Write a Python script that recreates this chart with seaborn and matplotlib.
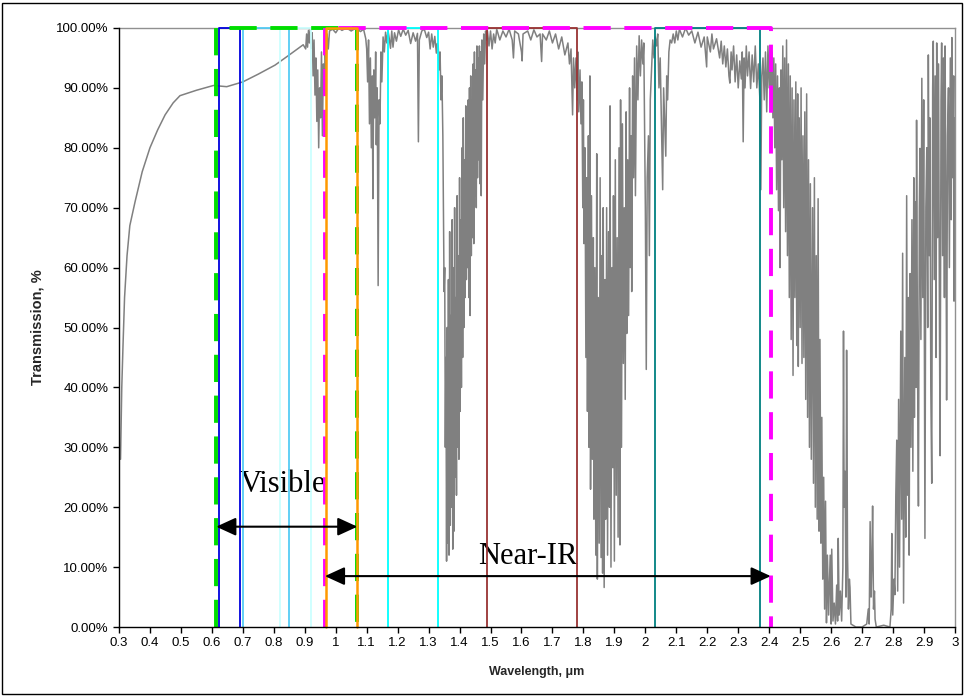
import matplotlib
matplotlib.use("Agg")
import numpy as np
import pandas as pd
import matplotlib.pyplot as plt
from matplotlib.patches import Rectangle
from matplotlib.ticker import FuncFormatter, MultipleLocator
import seaborn as sns

# Atmospheric transmission: (wavelength um, transmission %)
seg_uv_vis = [(0.305, 28), (0.309, 40), (0.313, 47), (0.318, 55), (0.326, 62), (0.335, 67), (0.352, 71),
              (0.375, 76), (0.400, 80), (0.425, 83), (0.449, 85.5), (0.475, 87.5), (0.497, 88.7),
              (0.550, 89.6), (0.605, 90.4), (0.648, 90.2), (0.700, 91.0), (0.750, 92.3),
              (0.804, 93.8), (0.850, 95.5), (0.895, 97.2), (0.903, 96.5)]

seg_nir1 = [(0.906, 99.0), (0.909, 96.8), (0.912, 99.6), (0.915, 97.5), (0.918, 99.8), (0.921, 96.6),
            (0.924, 99.2), (0.927, 92), (0.930, 98), (0.933, 88.8), (0.936, 95), (0.939, 84.4),
            (0.942, 93), (0.945, 80), (0.948, 90), (0.951, 85), (0.954, 96), (0.957, 82),
            (0.960, 94), (0.963, 89), (0.966, 97), (0.969, 93), (0.972, 99), (0.976, 96.5),
            (0.980, 99.5), (0.990, 99.8), (1.000, 99.2), (1.010, 100), (1.020, 99.6), (1.035, 100),
            (1.050, 99.5), (1.065, 100), (1.080, 99.4), (1.090, 99.8), (1.097, 98.2)]

seg_band_1130 = [(1.100, 96.5), (1.103, 91), (1.106, 98), (1.109, 84), (1.112, 95), (1.115, 80),
                 (1.118, 92), (1.120, 71.5), (1.123, 93), (1.126, 85), (1.129, 96), (1.131, 80.5),
                 (1.134, 90), (1.137, 57), (1.140, 88), (1.143, 84), (1.146, 96), (1.149, 91),
                 (1.153, 98.5), (1.157, 96), (1.161, 99.3), (1.165, 97.5), (1.169, 99.5)]

seg_nir2 = [(1.173, 98.2), (1.177, 96.6), (1.181, 99.5), (1.185, 96.8), (1.190, 99.2), (1.196, 97.8),
            (1.203, 99.7), (1.210, 98.6), (1.218, 99.8), (1.226, 98.8), (1.234, 99.6), (1.242, 97.4),
            (1.250, 99.2), (1.258, 97.8), (1.264, 99.1), (1.267, 81), (1.270, 98), (1.278, 99.5),
            (1.286, 99.8), (1.294, 98.4), (1.300, 99.3), (1.305, 96.5), (1.310, 99), (1.315, 96.8),
            (1.320, 98.6), (1.325, 95.8), (1.328, 97.4)]

seg_band_1400 = [(1.331, 97), (1.334, 93), (1.337, 96), (1.340, 88), (1.343, 92), (1.346, 82),
                 (1.348, 70), (1.350, 56), (1.352, 60), (1.354, 30), (1.356, 45), (1.358, 11),
                 (1.360, 50), (1.362, 14), (1.364, 58), (1.366, 12), (1.368, 66), (1.370, 17),
                 (1.372, 52), (1.374, 20), (1.376, 68), (1.378, 13), (1.380, 60), (1.382, 16),
                 (1.384, 70), (1.386, 25), (1.388, 55), (1.390, 22), (1.392, 72), (1.394, 30),
                 (1.396, 62), (1.398, 28), (1.400, 75), (1.402, 36), (1.404, 68), (1.406, 40),
                 (1.408, 80), (1.410, 45), (1.412, 85), (1.414, 50), (1.416, 78), (1.418, 55),
                 (1.420, 87), (1.422, 58), (1.424, 82), (1.426, 60), (1.428, 88), (1.430, 55),
                 (1.432, 90), (1.434, 52), (1.436, 92), (1.438, 62), (1.440, 88), (1.442, 65),
                 (1.444, 94), (1.446, 64), (1.448, 96), (1.450, 72), (1.452, 93), (1.454, 70),
                 (1.456, 97), (1.458, 75), (1.460, 95), (1.462, 78), (1.464, 97), (1.466, 74),
                 (1.468, 96), (1.470, 72), (1.472, 98), (1.475, 88), (1.478, 99), (1.481, 94),
                 (1.484, 99.5), (1.487, 98), (1.490, 99.5)]

seg_h_band = [(1.495, 97), (1.500, 99.5), (1.505, 96.5), (1.510, 99), (1.515, 97.5), (1.520, 99.8),
              (1.530, 98), (1.540, 99.5), (1.550, 98.5), (1.560, 99.8), (1.570, 98), (1.574, 95),
              (1.578, 99.5), (1.590, 99), (1.600, 96), (1.602, 94.5), (1.605, 99), (1.620, 99.5),
              (1.630, 98), (1.640, 99.7), (1.650, 98.5), (1.660, 99), (1.665, 94.4), (1.668, 99),
              (1.680, 98), (1.690, 99.5), (1.700, 97.5), (1.710, 99), (1.720, 96.5), (1.730, 98.5),
              (1.740, 95.5), (1.750, 97.5), (1.755, 94), (1.760, 96.5), (1.765, 85.5), (1.768, 95),
              (1.772, 90), (1.776, 95), (1.780, 88)]

seg_band_1900 = [(1.782, 96), (1.785, 86), (1.789, 93), (1.792, 84), (1.795, 91), (1.798, 70),
                 (1.800, 88), (1.802, 64), (1.805, 80), (1.808, 45), (1.811, 75), (1.813, 36),
                 (1.816, 82), (1.818, 30), (1.821, 92), (1.823, 23), (1.826, 72), (1.829, 28),
                 (1.832, 65), (1.834, 18), (1.837, 60), (1.840, 12), (1.843, 79), (1.845, 8),
                 (1.848, 55), (1.851, 14), (1.854, 75), (1.857, 11.6), (1.860, 62), (1.862, 9),
                 (1.864, 70), (1.867, 6.6), (1.870, 58), (1.872, 18), (1.875, 70), (1.878, 12),
                 (1.881, 66), (1.884, 20), (1.886, 87), (1.889, 10), (1.892, 60), (1.895, 26.6),
                 (1.897, 72), (1.900, 11), (1.903, 78), (1.906, 22), (1.909, 65), (1.912, 15),
                 (1.915, 80), (1.918, 13.7), (1.920, 88), (1.923, 30), (1.926, 84), (1.929, 44),
                 (1.932, 70), (1.935, 38), (1.938, 86), (1.940, 49), (1.943, 78), (1.946, 52),
                 (1.949, 90), (1.951, 60), (1.954, 82), (1.956, 56), (1.959, 92), (1.962, 75),
                 (1.965, 95), (1.968, 72), (1.972, 97), (1.976, 88), (1.980, 98.7), (1.984, 92),
                 (1.988, 98), (1.992, 94), (1.995, 97.5), (1.998, 80), (2.000, 70), (2.003, 43),
                 (2.006, 75), (2.010, 82), (2.013, 62), (2.016, 88), (2.020, 93), (2.024, 98),
                 (2.028, 95), (2.032, 98.5), (2.036, 97), (2.040, 99), (2.044, 90), (2.048, 95),
                 (2.052, 84), (2.056, 73), (2.059, 90), (2.062, 85), (2.066, 78.6), (2.069, 92),
                 (2.072, 88), (2.076, 96), (2.080, 98), (2.085, 97.5), (2.090, 99)]

seg_k_band = [(2.095, 97.5), (2.100, 99.5), (2.105, 98), (2.110, 99.8), (2.120, 98.5), (2.130, 100),
              (2.140, 98.8), (2.150, 99.5), (2.160, 97.5), (2.170, 99.3), (2.180, 96.8), (2.190, 98.5),
              (2.195, 95.5), (2.198, 93.5), (2.200, 98.5), (2.210, 96), (2.215, 99), (2.220, 96.5),
              (2.230, 98.2), (2.240, 95), (2.245, 97.8), (2.250, 94), (2.255, 97), (2.260, 93.5),
              (2.265, 96.5), (2.270, 92), (2.273, 90.8), (2.277, 96), (2.280, 93), (2.285, 97),
              (2.290, 91), (2.295, 95.5), (2.300, 90), (2.305, 94.5), (2.310, 91.5), (2.313, 96),
              (2.316, 81), (2.319, 95), (2.322, 90), (2.326, 97), (2.330, 92), (2.335, 96),
              (2.340, 89.9), (2.345, 95.5), (2.350, 91), (2.355, 97), (2.360, 90), (2.365, 94),
              (2.370, 88), (2.373, 73), (2.376, 92), (2.380, 95), (2.384, 88), (2.388, 96),
              (2.392, 86), (2.396, 97), (2.400, 90)]

seg_band_2700 = [(2.403, 97), (2.406, 88), (2.409, 96), (2.412, 85), (2.415, 95), (2.418, 80),
                 (2.421, 94), (2.424, 73), (2.427, 92), (2.430, 69.5), (2.433, 90), (2.435, 60),
                 (2.438, 93), (2.441, 78), (2.444, 97), (2.447, 70), (2.450, 95), (2.453, 66),
                 (2.456, 98), (2.459, 62), (2.462, 94), (2.465, 55), (2.468, 92), (2.471, 48),
                 (2.474, 90), (2.477, 42), (2.480, 88), (2.483, 55), (2.486, 91), (2.489, 47),
                 (2.492, 89), (2.494, 43.5), (2.497, 85), (2.500, 50), (2.503, 90), (2.506, 44),
                 (2.509, 82), (2.512, 45), (2.515, 86), (2.518, 38), (2.521, 89), (2.524, 35),
                 (2.527, 78), (2.530, 30), (2.533, 74), (2.536, 28), (2.540, 70), (2.543, 24),
                 (2.546, 75), (2.549, 20), (2.552, 62), (2.555, 18), (2.558, 71.5), (2.561, 16),
                 (2.564, 48), (2.567, 14), (2.570, 35), (2.573, 8), (2.576, 25), (2.579, 3),
                 (2.582, 21), (2.585, 0.7), (2.588, 12), (2.592, 2), (2.597, 12), (2.600, 0.5),
                 (2.602, 13), (2.606, 1), (2.610, 4), (2.614, 0.5), (2.618, 7), (2.621, 1),
                 (2.623, 14.8), (2.626, 2), (2.630, 6), (2.634, 1), (2.638, 10), (2.640, 49.4),
                 (2.642, 20), (2.645, 26), (2.648, 5), (2.650, 46.2), (2.653, 12), (2.656, 3),
                 (2.659, 8), (2.661, 6.6), (2.664, 0.5), (2.680, 0), (2.700, 0), (2.715, 0.5),
                 (2.720, 3), (2.723, 0.5), (2.726, 17.6), (2.729, 5), (2.732, 12), (2.734, 20.2),
                 (2.737, 3), (2.740, 6), (2.742, 1.3), (2.746, 0), (2.770, 0.3), (2.790, 0)]

seg_mir = [(2.794, 3), (2.796, 15.6), (2.799, 2), (2.803, 8), (2.806, 5.4), (2.809, 22),
           (2.812, 31.2), (2.815, 6), (2.818, 38), (2.821, 10), (2.825, 49.4), (2.828, 18),
           (2.831, 62.4), (2.834, 4), (2.838, 45), (2.841, 15), (2.844, 72), (2.847, 22),
           (2.850, 55), (2.852, 12), (2.855, 59), (2.858, 30), (2.861, 68), (2.864, 26),
           (2.867, 75), (2.869, 35), (2.871, 71), (2.874, 40), (2.876, 84.6), (2.879, 45),
           (2.882, 20.2), (2.885, 70), (2.887, 79.9), (2.890, 48), (2.893, 91.6), (2.896, 55),
           (2.899, 88), (2.903, 14.8), (2.906, 70), (2.909, 80), (2.912, 50), (2.914, 95.5),
           (2.917, 62), (2.919, 85), (2.922, 40), (2.925, 24), (2.928, 90), (2.930, 97.8),
           (2.933, 58), (2.936, 92), (2.939, 45), (2.941, 97.5), (2.944, 65), (2.947, 94),
           (2.950, 50), (2.952, 28.6), (2.955, 88), (2.957, 97.5), (2.960, 62), (2.963, 95),
           (2.966, 55), (2.968, 97), (2.971, 70), (2.973, 37.9), (2.976, 82), (2.979, 90),
           (2.982, 60), (2.985, 95), (2.988, 68), (2.990, 98.4), (2.993, 75), (2.996, 92),
           (2.997, 54.4), (3.000, 85)]

# filter pass bands (um) and their outline colours
band_lo = [0.622, 0.70, 0.82, 0.97, 1.17, 1.49, 2.03]
band_hi = [0.69, 0.85, 0.92, 1.07, 1.33, 1.78, 2.37]
band_colors = ["#0000DD", "#55CCF5", "#CCFFFF", "#FF9900", "#00FFFF", "#993333", "#008080"]
band_widths = [1.3, 1.3, 1.3, 1.8, 1.3, 1.3, 1.3]

# spectral ranges (dashed boxes + arrows)
range_names = ["Visible", "Near-IR"]
range_lo = [0.614, 0.965]
range_hi = [1.07, 2.405]
range_colors = ["#00DD00", "#FF00FF"]
range_arrow_y = [16.75, 8.5]
range_label_xy = [(0.828, 22.6), (1.62, 10.5)]

x_ticks = np.round(np.arange(0.3, 3.01, 0.1), 1)

segments = [seg_uv_vis, seg_nir1, seg_band_1130, seg_nir2, seg_band_1400, seg_h_band,
            seg_band_1900, seg_k_band, seg_band_2700, seg_mir]
df = pd.DataFrame([p for seg in segments for p in seg], columns=["wl", "tr"])

sns.set_theme(style="white")
plt.rcParams["font.family"] = ["Liberation Sans", "DejaVu Sans"]

fig = plt.figure(figsize=(9.65, 6.96), dpi=100)
ax = fig.add_axes([0.1233, 0.0991, 0.8663, 0.8607])

sns.lineplot(data=df, x="wl", y="tr", estimator=None, sort=False, color="#808080",
             lw=1.1, legend=False, ax=ax, zorder=2)

# filter bands: open boxes (left, top, right); the orange one sits over the dashes
for lo, hi, c, w in zip(band_lo, band_hi, band_colors, band_widths):
    z = 5 if c == "#FF9900" else 3
    ax.plot([lo, lo, hi, hi], [0, 100, 100, 0], color=c, lw=w, zorder=z, clip_on=False)

# spectral ranges: dashed boxes, arrows and labels
for name, lo, hi, c, ay, (tx, ty) in zip(range_names, range_lo, range_hi, range_colors,
                                          range_arrow_y, range_label_xy):
    ax.plot([lo, lo, hi, hi], [0, 100, 100, 0], color=c, lw=2.8, zorder=4, clip_on=False,
            linestyle=(0, (7, 3.5)))
    ax.annotate("", xy=(hi, ay), xytext=(lo, ay), zorder=6,
                arrowprops=dict(arrowstyle="<|-|>,head_length=1.2,head_width=0.55",
                                mutation_scale=10, lw=1.5, color="black",
                                shrinkA=0, shrinkB=0))
    ax.text(tx, ty, name, ha="center", va="baseline", fontsize=22,
            family=["Liberation Serif", "DejaVu Serif"], color="black", zorder=2.5)

ax.set_xlim(0.3, 3.0)
ax.set_ylim(0, 100)
ax.set_xticks(x_ticks)
ax.xaxis.set_major_formatter(FuncFormatter(lambda v, p: f"{v:g}"))
ax.yaxis.set_major_locator(MultipleLocator(10))
ax.yaxis.set_major_formatter(FuncFormatter(lambda v, p: f"{v:.2f}%"))
ax.tick_params(axis="both", direction="out", length=4, width=1, color="black",
               labelsize=9.5, labelcolor="black", bottom=True, left=True)

for side in ["left", "bottom"]:
    ax.spines[side].set_color("black")
    ax.spines[side].set_linewidth(1)
    ax.spines[side].set_zorder(7)
for side in ["top", "right"]:
    ax.spines[side].set_color("#909090")
    ax.spines[side].set_linewidth(1)

ax.set_xlabel("Wavelength, \u03bcm", fontsize=9, fontweight="bold", labelpad=12)
ax.set_ylabel("Transmission, %", fontsize=10.5, fontweight="bold", labelpad=8)

# outer frame of the chart
fig.add_artist(Rectangle((0.002, 0.003), 0.995, 0.993, transform=fig.transFigure,
                         fill=False, edgecolor="black", lw=1))

fig.savefig("out.png", dpi=100)
